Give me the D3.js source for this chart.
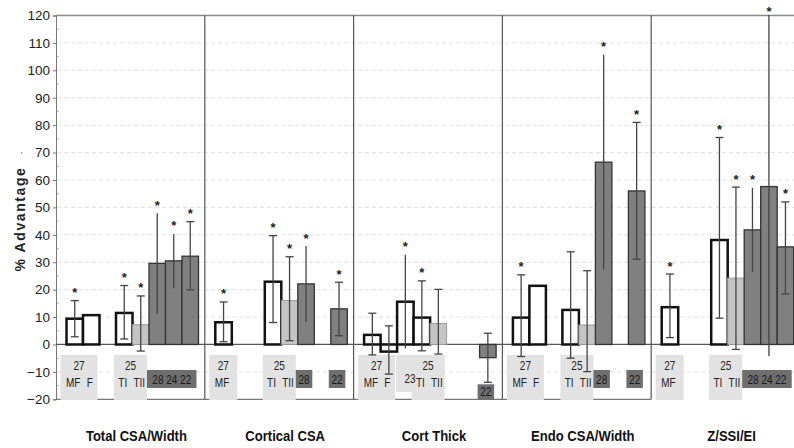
<!DOCTYPE html>
<html lang="en">
<head>
  <meta charset="UTF-8">
  <title>% Advantage</title>
  <style>
    body {
      margin: 0;
      background: #fff;
    }
    #chart {
      width: 794px;
      height: 448px;
    }
    .small {
      font-family: 'Liberation Sans Narrow', 'Liberation Sans', Arial, sans-serif;
      font-size: 12.5px;
    }
  </style>
</head>
<body>
  <div id="chart"></div>

  <script src="https://d3js.org/d3.v7.min.js"></script>

  <script>
    // panels and groups (slot order inside every panel)
    const panels = ["Total CSA/Width", "Cortical CSA", "Cort Thick", "Endo CSA/Width", "Z/SSI/EI"];
    const groups = ["MF", "F", "23", "TI", "TII", "28", "24", "22"];
    const sampleSize = [27, 27, 23, 25, 25, 28, 24, 22];
    const yTicks = [-20, -10, 0, 10, 20, 30, 40, 50, 60, 70, 80, 90, 100, 110, 120];

    // mean % advantage per panel (null = no bar)
    const means = [
      [9.4, 10.7, null, 11.5, 7.2, 29.6, 30.5, 32.2],
      [8.1, null, null, 22.9, 16.0, 22.1, null, 13.0],
      [3.5, -2.6, 15.6, 9.8, 7.7, null, null, -4.8],
      [9.8, 21.4, null, 12.6, 7.1, 66.5, null, 56.0],
      [13.6, null, null, 38.1, 24.2, 41.8, 57.6, 35.6]
    ];
    const errHigh = [
      [16.0, null, null, 21.5, 17.7, 47.9, 40.3, 44.8],
      [15.5, null, null, 39.7, 32.0, 35.9, null, 22.7],
      [11.4, 6.8, 32.7, 23.2, 20.1, null, null, 4.1],
      [25.4, null, null, 33.8, 26.9, 105.7, null, 81.0],
      [25.7, null, null, 75.5, 57.4, 57.2, 120.2, 52.0]
    ];
    const errLow = [
      [2.8, null, null, 2.0, -2.4, 11.1, 20.5, 19.9],
      [1.0, null, null, 8.0, 1.4, 8.3, null, 3.2],
      [-3.8, -10.8, -1.4, -2.3, -3.5, null, null, -13.8],
      [-4.4, null, null, -5.0, -9.9, 27.4, null, 31.1],
      [2.5, null, null, 9.6, -1.8, 26.4, -4.2, 18.4]
    ];
    const significant = [
      [1, 0, 0, 1, 1, 1, 1, 1],
      [1, 0, 0, 1, 1, 1, 0, 1],
      [0, 0, 1, 1, 0, 0, 0, 0],
      [1, 0, 0, 0, 0, 1, 0, 1],
      [1, 0, 0, 1, 1, 1, 1, 1]
    ];

    const width = 794;
    const height = 448;

    const svg = d3.select("#chart")
      .append("svg")
      .attr("width", width)
      .attr("height", height)
      .style("font-family", "'Liberation Sans', Arial, sans-serif");

    const y = d3.scaleLinear().domain([-20, 120]).range([399.3, 15.5]);
    const xPanel = d3.scaleBand().domain(panels).range([56, 800]);
    const xSlot = d3.scaleBand().domain(groups).range([10.5, 142.5]);
    const bw = xSlot.bandwidth();
    const plotRight = width;

    // gridlines
    svg.append("g")
      .selectAll("line")
      .data(yTicks.filter(t => t !== 0 && t !== 120 && t !== -20))
      .join("line")
      .attr("x1", 57).attr("x2", plotRight)
      .attr("y1", d => y(d)).attr("y2", d => y(d))
      .attr("stroke", "#e0e0e0")
      .attr("stroke-dasharray", "4,3");

    // minor ticks
    svg.append("g")
      .selectAll("line")
      .data(d3.range(-15, 120, 10))
      .join("line")
      .attr("x1", 56).attr("x2", 59)
      .attr("y1", d => y(d)).attr("y2", d => y(d))
      .attr("stroke", "#bbb");

    // axis
    const axis = svg.append("g")
      .attr("transform", "translate(56,0)")
      .call(d3.axisLeft(y).tickValues(yTicks).tickSize(3).tickPadding(3));
    axis.select(".domain").attr("stroke", "#777");
    axis.selectAll(".tick line").attr("stroke", "#777");
    axis.selectAll(".tick text")
      .style("font-size", "13.5px")
      .style("font-family", "'Liberation Sans', Arial, sans-serif")
      .attr("fill", "#222");

    // frame
    svg.append("line")
      .attr("x1", 56).attr("x2", plotRight)
      .attr("y1", y(120)).attr("y2", y(120))
      .attr("stroke", "#8a8a8a").attr("stroke-width", 1.5);
    svg.append("line")
      .attr("x1", 56).attr("x2", xPanel(panels[4]))
      .attr("y1", y(-20)).attr("y2", y(-20))
      .attr("stroke", "#777").attr("stroke-width", 1.2);

    svg.append("g")
      .selectAll("line")
      .data(panels.slice(1))
      .join("line")
      .attr("x1", d => xPanel(d)).attr("x2", d => xPanel(d))
      .attr("y1", y(120)).attr("y2", y(-20))
      .attr("stroke", "#555").attr("stroke-width", 1.2);

    // n-label boxes under the bars
    const boxLayer = svg.append("g");
    const textLayer = svg.append("g").attr("class", "small");
    const narrow = (x, yy, txt, fill) => textLayer.append("text")
      .attr("transform", `translate(${x},${yy}) scale(0.8,1)`)
      .attr("text-anchor", "middle")
      .attr("fill", fill)
      .text(txt);

    const clusters = [[0, 1], [2], [3, 4], [5, 6, 7]];
    panels.forEach((p, pi) => {
      const px = xPanel(p);
      const sx = i => px + xSlot(groups[i]);
      clusters.forEach((cl, ci) => {
        const present = cl.filter(i => means[pi][i] !== null);
        if (!present.length) return;
        if (ci < 3) {
          let x0, x1, y1 = 400;
          if (ci === 0) { x0 = sx(present[0]) - 6; x1 = sx(present[present.length - 1]) + bw - 2; }
          else if (ci === 1) { x0 = sx(present[0]) - 1; x1 = x0 + bw + 1; y1 = 392; }
          else { x0 = sx(present[0]) - 2; x1 = sx(present[present.length - 1]) + bw - 2; }
          if (x1 - x0 < 28) x1 = x0 + 28;
          boxLayer.append("rect")
            .attr("x", x0).attr("y", 355)
            .attr("width", x1 - x0).attr("height", y1 - 355)
            .attr("fill", "#e2e2e2");
          if (ci === 1) {
            narrow((x0 + x1) / 2, 383, sampleSize[present[0]], "#222");
          } else {
            narrow((x0 + x1) / 2, 370, sampleSize[present[0]], "#222");
            present.forEach(i => narrow(sx(i) + bw / 2 - 1.5, 386.5, groups[i], "#222"));
          }
        } else {
          // contiguous runs of dark groups
          const runs = [];
          present.forEach(i => {
            const last = runs[runs.length - 1];
            if (last && last[last.length - 1] === i - 1) last.push(i);
            else runs.push([i]);
          });
          runs.forEach(run => {
            const x0 = sx(run[0]) - 2;
            const x1 = sx(run[run.length - 1]) + bw - 2;
            const lowest = d3.min(run, i => errLow[pi][i]);
            const top = Math.max(370, y(lowest) + 2);
            const h = Math.min(18, 399.5 - top);
            boxLayer.append("rect")
              .attr("x", x0).attr("y", top)
              .attr("width", x1 - x0).attr("height", h)
              .attr("fill", "#6e6e6e");
            narrow((x0 + x1) / 2, top + h / 2 + 4.5, run.map(i => sampleSize[i]).join(" "), "#1a1a1a");
          });
        }
      });
    });

    // zero line
    svg.append("line")
      .attr("x1", 56).attr("x2", plotRight)
      .attr("y1", y(0)).attr("y2", y(0))
      .attr("stroke", "#555").attr("stroke-width", 1.2);

    // bars
    const barFill = { MF: "#fff", F: "#fff", "23": "#fff", TI: "#fff", TII: "#c4c4c4", "28": "#808080", "24": "#808080", "22": "#808080" };
    const barStroke = { MF: "#111", F: "#111", "23": "#111", TI: "#111", TII: "#999", "28": "#333", "24": "#333", "22": "#333" };
    const barWidth = { MF: 2.5, F: 2.5, "23": 2.5, TI: 2.5, TII: 1, "28": 1.3, "24": 1.3, "22": 1.3 };
    const noCap = ["28", "24", "23"];

    const rows = [];
    panels.forEach((p, pi) => {
      groups.forEach((g, gi) => {
        if (means[pi][gi] === null) return;
        rows.push({ p, g, v: means[pi][gi], hi: errHigh[pi][gi], lo: errLow[pi][gi], sig: significant[pi][gi] });
      });
    });

    svg.append("g")
      .selectAll("rect")
      .data(rows)
      .join("rect")
      .attr("x", d => xPanel(d.p) + xSlot(d.g))
      .attr("width", bw)
      .attr("y", d => y(Math.max(0, d.v)))
      .attr("height", d => Math.abs(y(d.v) - y(0)))
      .attr("fill", d => barFill[d.g])
      .attr("stroke", d => barStroke[d.g])
      .attr("stroke-width", d => barWidth[d.g]);

    // error bars
    const eb = svg.append("g")
      .attr("stroke", "#444")
      .attr("stroke-width", 1.3);
    const withErr = rows.filter(d => d.hi !== null);
    const cx = d => xPanel(d.p) + xSlot(d.g) + bw / 2;
    eb.selectAll("line.v")
      .data(withErr)
      .join("line")
      .attr("class", "v")
      .attr("x1", cx).attr("x2", cx)
      .attr("y1", d => y(d.hi)).attr("y2", d => y(d.lo));
    const capped = withErr.filter(d => !noCap.includes(d.g));
    ["hi", "lo"].forEach(k => {
      eb.selectAll("line.c" + k)
        .data(capped)
        .join("line")
        .attr("class", "c" + k)
        .attr("x1", d => cx(d) - 4).attr("x2", d => cx(d) + 4)
        .attr("y1", d => y(d[k])).attr("y2", d => y(d[k]));
    });

    // significance stars
    svg.append("g")
      .selectAll("text")
      .data(withErr.filter(d => d.sig))
      .join("text")
      .attr("x", cx)
      .attr("y", d => Math.max(y(d.hi) - 3.5, 15.5))
      .attr("text-anchor", "middle")
      .style("font-size", "13px")
      .style("font-weight", "bold")
      .attr("fill", "#222")
      .text("*");

    // panel titles
    svg.append("g")
      .selectAll("text")
      .data(panels)
      .join("text")
      .attr("transform", d => `translate(${xPanel(d) + xPanel.bandwidth() / 2 + 6},440.5) scale(0.9,1)`)
      .attr("text-anchor", "middle")
      .style("font-size", "14.5px")
      .style("font-weight", "bold")
      .attr("fill", "#111")
      .text(d => d);

    // y axis title
    svg.append("text")
      .attr("transform", "translate(25,219) rotate(-90)")
      .attr("text-anchor", "middle")
      .style("font-size", "14px")
      .style("font-weight", "bold")
      .style("letter-spacing", "1.6px")
      .attr("fill", "#222")
      .text("% Advantage");
    svg.append("text")
      .attr("transform", "translate(25,153) rotate(-90)")
      .attr("text-anchor", "middle")
      .style("font-size", "11px")
      .attr("fill", "#444")
      .text("·");
  </script>
</body>
</html>
